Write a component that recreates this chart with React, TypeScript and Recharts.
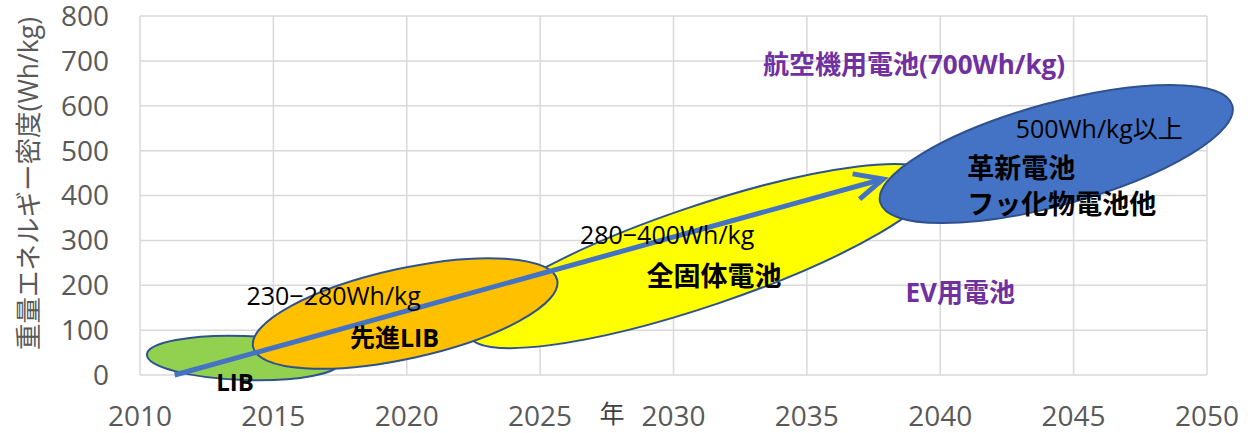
import React from "react";
import {
  CartesianGrid,
  ComposedChart,
  Label,
  ReferenceDot,
  ReferenceLine,
  XAxis,
  YAxis,
} from "recharts";

// axis ticks
const years = [2010, 2015, 2020, 2025, 2030, 2035, 2040, 2045, 2050];
const densityTicks = [0, 100, 200, 300, 400, 500, 600, 700, 800];

// battery generations: each ellipse is laid along its long axis (year, Wh/kg)
const bandNames = ["LIB", "全固体電池", "先進LIB", "革新電池"];
const bandStartYear = [2010.26, 2022.32, 2014.24, 2037.75];
const bandStartValue = [45.5, 89.1, 62.4, 384.4];
const bandEndYear = [2017.54, 2039.83, 2025.64, 2050.95];
const bandEndValue = [30.3, 441.2, 211.7, 600.6];

// trend arrow
const trendYear = [2011.3, 2037.86];
const trendValue = [0, 436.8];

// annotations
const noteText = [
  "航空機用電池(700Wh/kg)",
  "EV用電池",
  "500Wh/kg以上",
  "革新電池",
  "フッ化物電池他",
  "280−400Wh/kg",
  "全固体電池",
  "230−280Wh/kg",
  "先進LIB",
  "LIB",
];
const noteYear = [2039.02, 2040.75, 2045.96, 2041.01, 2041.01, 2029.76, 2031.52, 2017.26, 2019.54, 2013.56];
const noteValue = [693, 185, 551.5, 462.4, 382, 315.3, 222.8, 178.3, 85.4, -15];

const bandFill = ["#92D050", "#FFFF00", "#FFC000", "#4472C4"];
const bandHalfWidth = [22, 50, 45, 51];

const PURPLE = "#7030A0";
const noteStyle = [
  { size: 26, weight: 700, color: PURPLE, anchor: "middle" },
  { size: 26, weight: 700, color: PURPLE, anchor: "middle" },
  { size: 25, weight: 400, color: "#000", anchor: "middle" },
  { size: 27, weight: 700, color: "#000", anchor: "start" },
  { size: 27, weight: 700, color: "#000", anchor: "start" },
  { size: 25, weight: 400, color: "#000", anchor: "middle" },
  { size: 27, weight: 700, color: "#000", anchor: "middle" },
  { size: 25, weight: 400, color: "#000", anchor: "middle" },
  { size: 25, weight: 700, color: "#000", anchor: "middle" },
  { size: 24, weight: 700, color: "#000", anchor: "middle" },
];

const FONT = "'Open Sans', 'Noto Sans CJK JP', sans-serif";
const AXIS_GREY = "#595959";

function ellipseShape(fill: string, halfWidth: number) {
  return (p: any) => {
    const { x1, y1, x2, y2 } = p;
    const cx = (x1 + x2) / 2;
    const cy = (y1 + y2) / 2;
    const rx = Math.hypot(x2 - x1, y2 - y1) / 2;
    const angle = (Math.atan2(y2 - y1, x2 - x1) * 180) / Math.PI;
    return (
      <ellipse
        cx={cx}
        cy={cy}
        rx={rx}
        ry={halfWidth}
        transform={`rotate(${angle} ${cx} ${cy})`}
        fill={fill}
        stroke="#2F528F"
        strokeWidth={2}
      />
    );
  };
}

function arrowShape(p: any) {
  const { x1, y1, x2, y2 } = p;
  const back = Math.atan2(y1 - y2, x1 - x2);
  const spread = (25 * Math.PI) / 180;
  const len = 31;
  const wingA = [x2 + len * Math.cos(back - spread), y2 + len * Math.sin(back - spread)];
  const wingB = [x2 + len * Math.cos(back + spread), y2 + len * Math.sin(back + spread)];
  return (
    <g stroke="#4472C4" strokeWidth={5} fill="none">
      <line x1={x1} y1={y1} x2={x2} y2={y2} />
      <polyline
        points={`${wingA[0]},${wingA[1]} ${x2},${y2} ${wingB[0]},${wingB[1]}`}
        strokeLinejoin="miter"
      />
    </g>
  );
}

function noteShape(i: number) {
  const s = noteStyle[i];
  return (p: any) => (
    <text
      x={p.cx}
      y={p.cy}
      textAnchor={s.anchor as any}
      dominantBaseline="central"
      fontFamily={FONT}
      fontSize={s.size}
      fontWeight={s.weight}
      fill={s.color}
    >
      {noteText[i]}
    </text>
  );
}

export default function App() {
  return (
    <div style={{ position: "absolute", left: 0, top: 0, background: "#fff" }}>
      <ComposedChart
        width={1251}
        height={433}
        margin={{ top: 16, right: 44, bottom: 0, left: 0 }}
        style={{ fontFamily: FONT }}
      >
        <CartesianGrid stroke="#D9D9D9" strokeWidth={1.5} />
        <XAxis
          type="number"
          dataKey="year"
          domain={[2010, 2050]}
          ticks={years}
          interval={0}
          allowDataOverflow
          axisLine={false}
          tickLine={false}
          tickSize={0}
          tickMargin={31}
          height={58}
          tick={{ fill: AXIS_GREY, fontSize: 28 }}
        >
          <Label
            content={({ viewBox }: any) => (
              <text
                x={viewBox.x + 472}
                y={viewBox.y + 38}
                textAnchor="middle"
                dominantBaseline="central"
                fontFamily={FONT}
                fontSize={25}
                fill="#404040"
              >
                年
              </text>
            )}
          />
        </XAxis>
        <YAxis
          type="number"
          domain={[0, 800]}
          ticks={densityTicks}
          interval={0}
          allowDataOverflow
          axisLine={false}
          tickLine={false}
          tickSize={0}
          tickMargin={31}
          width={140}
          tick={{ fill: AXIS_GREY, fontSize: 28 }}
        >
          <Label
            content={({ viewBox }: any) => {
              const x = viewBox.x + 27.5;
              const y = viewBox.y + viewBox.height / 2 - 12;
              return (
                <text
                  x={x}
                  y={y}
                  transform={`rotate(-90 ${x} ${y})`}
                  textAnchor="middle"
                  dominantBaseline="central"
                  fontFamily={FONT}
                  fontSize={26.5}
                  fill={AXIS_GREY}
                >
                  重量エネルギー密度(Wh/kg)
                </text>
              );
            }}
          />
        </YAxis>

        {bandNames.map((name, i) => (
          <ReferenceLine
            key={name}
            ifOverflow="visible"
            segment={[
              { x: bandStartYear[i], y: bandStartValue[i] },
              { x: bandEndYear[i], y: bandEndValue[i] },
            ]}
            shape={ellipseShape(bandFill[i], bandHalfWidth[i])}
          />
        ))}

        <ReferenceLine
          ifOverflow="visible"
          segment={[
            { x: trendYear[0], y: trendValue[0] },
            { x: trendYear[1], y: trendValue[1] },
          ]}
          shape={arrowShape}
        />

        {noteText.map((t, i) => (
          <ReferenceDot
            key={t}
            x={noteYear[i]}
            y={noteValue[i]}
            r={0}
            ifOverflow="visible"
            shape={noteShape(i)}
          />
        ))}
      </ComposedChart>
    </div>
  );
}
